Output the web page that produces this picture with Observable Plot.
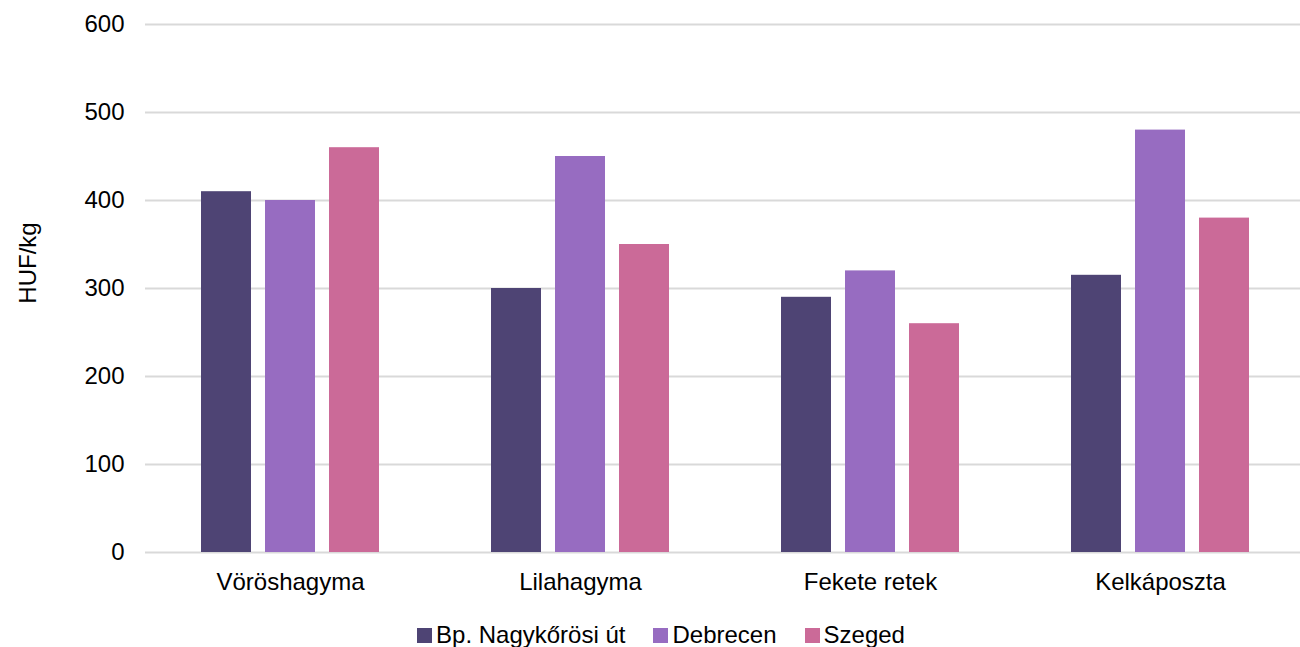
<!DOCTYPE html>
<html>
<head>
<meta charset="utf-8">
<script src="https://cdn.jsdelivr.net/npm/d3@7"></script>
<script src="https://cdn.jsdelivr.net/npm/@observablehq/plot@0.6"></script>
<style>
  html, body { margin: 0; padding: 0; background: #fff; }
  body { width: 1300px; height: 647px; overflow: hidden; font-family: "Liberation Sans", Arial, sans-serif; }
  #wrap { position: relative; width: 1300px; }
  #chart svg { overflow: hidden; max-width: none !important; }
  #legend { position: absolute; top: 621px; left: 0; width: 1300px; display: flex; justify-content: center; gap: 28px; font-size: 24px; color: #000; padding-left: 22px; box-sizing: border-box; }
  #legend .item { display: flex; align-items: center; gap: 4px; }
  #legend .sw { width: 15px; height: 15px; display: inline-block; }
</style>
</head>
<body>
<div id="wrap"><div id="chart"></div><div id="legend"></div></div>
<script>
const categories = ["Vöröshagyma", "Lilahagyma", "Fekete retek", "Kelkáposzta"];
const seriesNames = ["Bp. Nagykőrösi út", "Debrecen", "Szeged"];
const seriesColors = ["#4E4474", "#976CC1", "#CB6A98"];
const bpValues = [410, 300, 290, 315];
const debrecenValues = [400, 450, 320, 480];
const szegedValues = [460, 350, 260, 380];
const yTicks = [0, 100, 200, 300, 400, 500, 600];
const yLabel = "HUF/kg";

const seriesValues = [bpValues, debrecenValues, szegedValues];
const data = [];
categories.forEach((c, i) => {
  seriesNames.forEach((s, j) => data.push({category: c, series: s, value: seriesValues[j][i]}));
});

const chart = Plot.plot({
  width: 1300,
  height: 600,
  marginLeft: 144,
  marginRight: -5,
  marginTop: 24,
  marginBottom: 48,
  style: { fontFamily: "Liberation Sans, Arial, sans-serif", fontSize: "24px", color: "#000", background: "#fff" },
  fx: { domain: categories, padding: 0, label: null },
  x: { domain: seriesNames, paddingInner: 0.225, paddingOuter: 0.8625, axis: null },
  y: { domain: [0, 600], label: null },
  color: { domain: seriesNames, range: seriesColors },
  marks: [
    Plot.gridY(yTicks, { stroke: "#d9d9d9", strokeOpacity: 1, strokeWidth: 2 }),
    Plot.barY(data, { fx: "category", x: "series", y: "value", fill: "series" }),
    Plot.axisY(yTicks, { tickSize: 0, tickPadding: 21, label: null, fontSize: 24 }),
    Plot.axisFx({ anchor: "bottom", tickSize: 0, tickPadding: 20, label: null, fontSize: 24 })
  ]
});
document.getElementById("chart").appendChild(chart);

d3.select(chart).append("text")
  .attr("transform", "translate(36,263) rotate(-90)")
  .attr("text-anchor", "middle")
  .attr("font-size", 24)
  .attr("fill", "#000")
  .text(yLabel);

const legend = d3.select("#legend");
seriesNames.forEach((s, j) => {
  const it = legend.append("div").attr("class", "item");
  it.append("span").attr("class", "sw").style("background", seriesColors[j]);
  it.append("span").text(s);
});
</script>
</body>
</html>
